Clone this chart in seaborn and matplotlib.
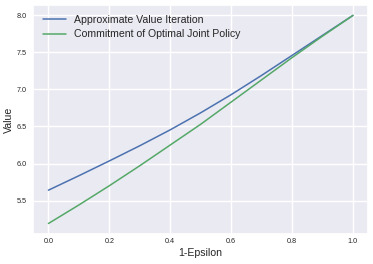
import matplotlib
matplotlib.use("Agg")
import matplotlib.pyplot as plt
import seaborn as sns
import pandas as pd
import numpy as np

# values
epsilon = [0.0, 0.1, 0.2, 0.3, 0.4, 0.5, 0.6, 0.7, 0.8, 0.9, 1.0]
avi = [5.64, 5.835, 6.035, 6.24, 6.455, 6.685, 6.93, 7.19, 7.46, 7.73, 8.0]
commit = [5.19, 5.44, 5.70, 5.97, 6.25, 6.53, 6.83, 7.13, 7.43, 7.72, 8.0]
series_names = ["Approximate Value Iteration", "Commitment of Optimal Joint Policy"]

sns.set_theme(style="darkgrid")
plt.rcParams["font.family"] = ["Liberation Sans", "DejaVu Sans"]
deep = sns.color_palette("deep")
colors = [deep[0], deep[2]]

df = pd.DataFrame({
    "1-Epsilon": epsilon * 2,
    "Value": avi + commit,
    "series": [series_names[0]] * len(epsilon) + [series_names[1]] * len(epsilon),
})

fig = plt.figure(figsize=(3.73, 2.64), dpi=100)
ax = fig.add_axes([0.089, 0.114, 0.898, 0.867])
sns.lineplot(data=df, x="1-Epsilon", y="Value", hue="series",
             palette=colors, ax=ax, linewidth=1.1)

ax.set_xlabel("1-Epsilon", fontsize=7.6, labelpad=2)
ax.set_ylabel("Value", fontsize=7.6, labelpad=2)
ax.tick_params(axis="both", length=0)
ax.tick_params(axis="x", labelsize=5.2, pad=3)
ax.tick_params(axis="y", labelsize=5.2, pad=4.5)
ax.set_xticks([0.0, 0.2, 0.4, 0.6, 0.8, 1.0])
ax.set_yticks([5.5, 6.0, 6.5, 7.0, 7.5, 8.0])
ax.legend(title=None, loc="upper left", frameon=False, fontsize=7.6,
          handlelength=2.2, labelspacing=0.45)

fig.savefig("out.png", dpi=100)
